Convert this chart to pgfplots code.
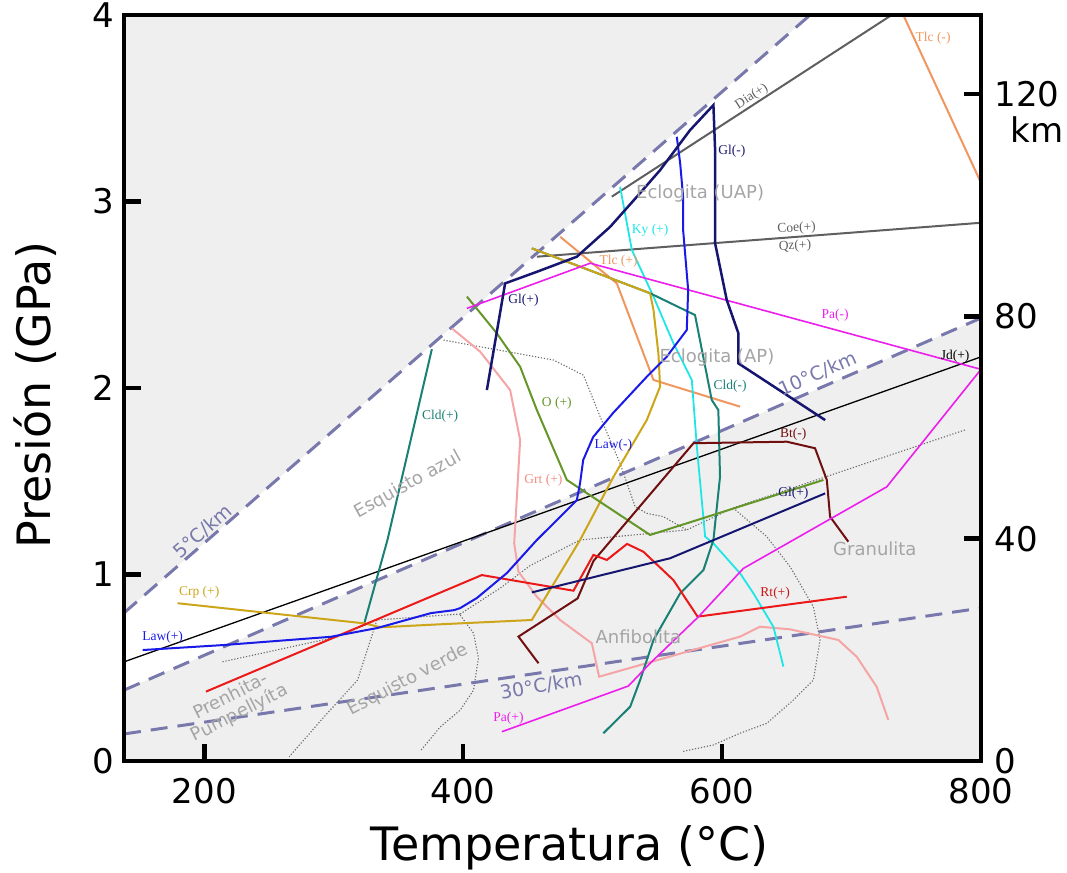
\documentclass[border=0pt]{standalone}
\usepackage{fontspec}
\setmainfont{DejaVu Sans}
\newfontfamily\lbl{Liberation Serif}
\usepackage{pgfplots}
\pgfplotsset{compat=1.18}
\definecolor{bgray}{RGB}{239,239,239}
\definecolor{geo}{RGB}{120,120,172}
\definecolor{facies}{RGB}{165,165,165}
\definecolor{cLaw}{RGB}{25,25,232}
\definecolor{cGl}{RGB}{22,22,112}
\definecolor{cPa}{RGB}{236,30,236}
\definecolor{cCld}{RGB}{25,128,118}
\definecolor{cCrp}{RGB}{205,165,25}
\definecolor{cRt}{RGB}{236,25,25}
\definecolor{cBt}{RGB}{112,15,15}
\definecolor{cO}{RGB}{100,150,40}
\definecolor{cGrt}{RGB}{245,165,165}
\definecolor{cGrtT}{RGB}{240,140,130}
\definecolor{cTlc}{RGB}{240,150,95}
\definecolor{cKy}{RGB}{30,230,230}
\definecolor{cDia}{RGB}{95,95,95}
\definecolor{dotc}{RGB}{105,105,105}
\begin{document}
\begin{tikzpicture}
\useasboundingbox (-124bp,-112bp) rectangle (943bp,761bp);
\begin{axis}[
  at={(0,0)}, anchor=south west,
  scale only axis, width=857bp, height=746bp,
  xmin=138, xmax=800, ymin=0, ymax=4,
  axis on top,
  axis line style={line width=4.5bp},
  xtick={200,400,600,800}, ytick={0,1,2,3,4},
  xtick pos=bottom, ytick pos=left,
  tick align=inside, major tick length=17bp,
  every tick/.style={line width=4.5bp, black},
  tick label style={font=\fontsize{34bp}{36bp}\selectfont},
  xticklabel style={yshift=-14bp},
  yticklabel style={xshift=-6bp},
  /pgf/number format/assume math mode=true,
  xlabel={Temperatura (°C)}, ylabel={Presión (GPa)},
  label style={font=\fontsize{46bp}{50bp}\selectfont},
  xlabel style={at={(axis description cs:0.52,-0.117)}, anchor=center},
  ylabel style={at={(axis description cs:-0.104,0.491)}, anchor=center},
  clip=false,
  no markers,
]
% background fields
\addplot[draw=none, fill=bgray] coordinates {(138,0.794) (668,4) (138,4)} -- cycle;
\addplot[draw=none, fill=bgray] coordinates {(138,0) (138,0.380) (800,2.375) (800,0)} -- cycle;

% facies boundaries (dotted)
\begin{scope}[every path/.append style={}]
\addplot[dotc, dash pattern=on 1.2bp off 1.8bp, line width=1.1bp] coordinates {(214.1,0.532) (302.9,0.666) (333.4,0.756) (397.7,0.788)};
\addplot[dotc, dash pattern=on 1.2bp off 1.8bp, line width=1.1bp] coordinates {(333.4,0.756) (318.4,0.434) (292.7,0.238) (265.6,0.023)};
\addplot[dotc, dash pattern=on 1.2bp off 1.8bp, line width=1.1bp] coordinates {(397.7,0.782) (408.0,0.685) (411.8,0.552) (408.0,0.380) (397.7,0.273) (382.2,0.182) (367.6,0.059)};
\addplot[dotc, dash pattern=on 1.2bp off 1.8bp, line width=1.1bp] coordinates {(397.7,0.788) (428.6,0.927) (451.8,1.048) (490.3,1.185) (572.7,1.239) (608.5,1.357) (787.6,1.775)};
\addplot[dotc, dash pattern=on 1.2bp off 1.8bp, line width=1.1bp] coordinates {(384.8,2.257) (469.7,2.150) (492.9,2.069) (505.8,1.846) (521.2,1.596) (532.8,1.364) (541.8,1.328) (554.7,1.310) (572.7,1.239)};
\addplot[dotc, dash pattern=on 1.2bp off 1.8bp, line width=1.1bp] coordinates {(608.5,1.357) (634.5,1.203) (652.5,1.042) (670.5,0.827) (675.7,0.649) (670.5,0.434) (655.1,0.327) (634.5,0.202) (613.9,0.149) (593.3,0.086) (568.9,0.050)};
\end{scope}

% geotherms
\addplot[geo, line width=3bp, dash pattern=on 17bp off 10bp] coordinates {(138,0.794) (668,4)};
\addplot[geo, line width=3bp, dash pattern=on 17bp off 10bp] coordinates {(138,0.380) (800,2.375)};
\addplot[geo, line width=3bp, dash pattern=on 17bp off 10bp] coordinates {(138,0.145) (800,0.820)};

% reaction lines
\addplot[black, line width=1.3bp] coordinates {(138.2,0.532) (800,2.167)};
\addplot[cDia, line width=2bp] coordinates {(514.8,3.026) (731.0,4.0)};
\addplot[cDia, line width=2bp] coordinates {(456.9,2.704) (800,2.886)};
\addplot[cTlc, line width=2bp] coordinates {(474.9,2.811) (518.7,2.561) (547.0,2.043) (613.9,1.900)};
\addplot[cTlc, line width=2bp] coordinates {(740,4.0) (800,3.10)};
\addplot[cGrt, line width=2bp] coordinates {(391.3,2.320) (413.1,2.195) (436.3,1.989) (444.0,1.721) (441.5,1.417) (439.4,1.167) (442.7,1.015) (456.9,0.881) (474.9,0.756) (499.4,0.631) (505.0,0.452) (613.9,0.667) (629.3,0.720) (652.5,0.706) (689.8,0.649) (704.0,0.559) (719.4,0.398) (728.4,0.220)};
\addplot[cKy, line width=1.8bp] coordinates {(521.2,3.079) (530.3,2.740) (547.0,2.490) (562.4,2.240) (576.6,2.043) (580.5,1.685) (586.9,1.203) (593.3,1.167) (613.9,1.006) (624.2,0.899) (639.6,0.720) (647.4,0.506)};
\addplot[cCld, line width=2bp] coordinates {(323.6,0.738) (341.5,1.185) (375.8,2.208)};
\addplot[cCld, line width=2bp] coordinates {(453.0,2.749) (544.4,2.508) (579.1,2.391) (592.0,1.936) (597.1,1.882) (598.4,1.524) (593.3,1.185) (585.6,1.024) (567.6,0.899) (547.0,0.649) (536.7,0.434) (529.0,0.291) (508.3,0.149)};
\addplot[cCrp, line width=2bp] coordinates {(179.4,0.846) (323.6,0.738) (336.4,0.717) (382.2,0.733) (453.0,0.756) (490.3,1.185) (516.1,1.524) (541.8,1.828) (552.1,2.007) (550.8,2.186) (547.0,2.418) (544.4,2.508) (453.0,2.749)};
\addplot[cO, line width=2bp] coordinates {(402.9,2.490) (426.0,2.293) (444.0,2.114) (456.9,1.882) (480.1,1.507) (544.4,1.212) (678.3,1.507)};
\addplot[cBt, line width=2bp] coordinates {(458.2,0.524) (442.7,0.667) (488.4,0.872) (500.6,1.072) (577.9,1.704) (650.0,1.712) (671.8,1.677) (680.9,1.507) (683.4,1.310) (697.5,1.176)};
\addplot[cRt, line width=2bp] coordinates {(201.3,0.372) (414.4,0.997) (485.2,0.913) (500.6,1.105) (511.0,1.078) (526.6,1.164) (539.2,1.122) (562.4,0.970) (581.1,0.774) (696.3,0.881)};
\addplot[cPa, line width=1.6bp] coordinates {(402.9,2.427) (498.1,2.669) (800,2.10) (727.2,1.470) (616.5,1.033) (581.7,0.773) (544.4,0.524) (527.6,0.402) (429.9,0.157)};
\addplot[cLaw, line width=2bp] coordinates {(152.4,0.595) (215.4,0.622) (297.8,0.666) (333.6,0.713) (375.1,0.793) (393,0.809) (397.7,0.820) (410.6,0.874) (433.8,1.008) (456.9,1.185) (464.6,1.238) (487.8,1.399) (490.3,1.490) (492.7,1.614) (500.4,1.737) (515.8,1.866) (541.8,2.060) (557.3,2.168) (572.7,2.311) (573.8,2.525) (569.9,2.847) (569.9,3.024) (567.6,3.206) (565.0,3.347)};
\addplot[cGl, line width=2.5bp] coordinates {(418.3,1.989) (432.4,2.561) (456.9,2.623) (487.8,2.704) (513.5,2.864) (534.1,3.025) (552.1,3.168) (575.3,3.383) (593.3,3.517) (594.6,3.276) (594.6,2.776) (603.6,2.472) (612.6,2.293) (612.6,2.132) (679.6,1.828)};
\addplot[cGl, line width=2bp] coordinates {(453.0,0.904) (559.8,1.087) (679.6,1.435)};

% geotherm labels
\node[text=geo, rotate=41, font=\fontsize{19bp}{20bp}\selectfont] at (axis cs:199,1.23) {5°C/km};
\node[text=geo, rotate=24, font=\fontsize{19bp}{20bp}\selectfont] at (axis cs:674,2.075) {10°C/km};
\node[text=geo, rotate=10, font=\fontsize{19bp}{20bp}\selectfont] at (axis cs:460.2,0.402) {30°C/km};

% facies labels
\begin{scope}[every node/.style={text=facies, font=\fontsize{18bp}{19bp}\selectfont}]
\node at (axis cs:583,3.045) {Eclogita (UAP)};
\node at (axis cs:596,2.166) {Eclogita (AP)};
\node[rotate=29] at (axis cs:357.5,1.48) {Esquisto azul};
\node[rotate=28] at (axis cs:357.5,0.434) {Esquisto verde};
\node[rotate=27, align=center] at (axis cs:224,0.30) {Prenhita-\\Pumpellyíta};
\node at (axis cs:535.4,0.667) {Anfibolita};
\node at (axis cs:718,1.14) {Granulita};
\end{scope}

% reaction labels
\begin{scope}[every node/.style={font=\lbl\fontsize{13.5bp}{14bp}\selectfont, inner sep=1bp}]
\node[text=cLaw] at (axis cs:167.8,0.666) {Law(+)};
\node[text=cLaw] at (axis cs:516.1,1.694) {Law(-)};
\node[text=cGl] at (axis cs:446.6,2.472) {Gl(+)};
\node[text=cGl] at (axis cs:607.5,3.267) {Gl(-)};
\node[text=cGl] at (axis cs:655.1,1.435) {Gl(+)};
\node[text=cPa] at (axis cs:687.3,2.391) {Pa(-)};
\node[text=cPa] at (axis cs:435,0.229) {Pa(+)};
\node[text=cCld] at (axis cs:382.2,1.846) {Cld(+)};
\node[text=cCld] at (axis cs:606.2,2.007) {Cld(-)};
\node[text=cCrp] at (axis cs:196.1,0.907) {Crp (+)};
\node[text=cRt!85!black] at (axis cs:641,0.90) {Rt(+)};
\node[text=cBt] at (axis cs:655,1.75) {Bt(-)};
\node[text=cO] at (axis cs:472.3,1.918) {O (+)};
\node[text=cGrtT] at (axis cs:462,1.507) {Grt (+)};
\node[text=cTlc] at (axis cs:520,2.677) {Tlc (+)};
\node[text=cTlc] at (axis cs:763,3.875) {Tlc (-)};
\node[text=cKy] at (axis cs:544.4,2.847) {Ky (+)};
\node[text=cDia, rotate=33] at (axis cs:622.9,3.562) {Dia(+)};
\node[text=cDia, rotate=3] at (axis cs:657.6,2.856) {Coe(+)};
\node[text=cDia, rotate=3] at (axis cs:656.3,2.761) {Qz(+)};
\node[text=black] at (axis cs:780,2.17) {Jd(+)};
\end{scope}
\end{axis}

\begin{axis}[
  at={(0,0)}, anchor=south west,
  scale only axis, width=857bp, height=746bp,
  xmin=138, xmax=800, ymin=0, ymax=134.23,
  hide x axis, axis y line*=right,
  y axis line style={line width=4.5bp, -},
  ytick={0,40,80,120},
  tick align=inside, major tick length=17bp,
  every tick/.style={line width=4.5bp, black},
  tick label style={font=\fontsize{34bp}{36bp}\selectfont},
  yticklabel style={xshift=10bp},
  /pgf/number format/assume math mode=true,
  clip=false,
]
\node[font=\fontsize{34bp}{36bp}\selectfont] at (rel axis cs:1.0653,0.8458) {km};
\end{axis}
\end{tikzpicture}
\end{document}
